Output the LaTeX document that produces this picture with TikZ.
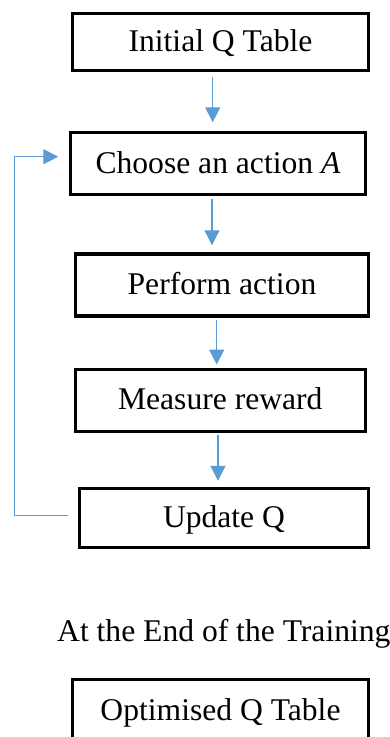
\documentclass[tikz,border=0pt]{standalone}
\usepackage{fontspec}
\setmainfont{Liberation Serif}
\usetikzlibrary{arrows.meta,calc}
\definecolor{flowblue}{HTML}{5B9BD5}
\begin{document}
\begin{tikzpicture}[x=1pt,y=-1pt,
  box/.style={draw=black,line width=3.5pt,fill=white,inner sep=0pt,
    text height=19pt,text depth=0pt,
    font=\fontsize{31.6}{36}\selectfont},
  flow/.style={draw=flowblue,line width=1.3pt,
    -{Triangle[length=15pt,width=15pt]}}]
\useasboundingbox (0,0) rectangle (390,737);
\clip (0,0) rectangle (390,737);
\node[box,minimum width=296pt,minimum height=57pt] (b1) at (220.5,42) {Initial Q Table};
\node[box,minimum width=295pt,minimum height=62pt] (b2) at (218,163.5) {Choose an action \textit{A}};
\node[box,minimum width=293pt,minimum height=62pt] (b3) at (222,285) {Perform action};
\node[box,minimum width=290pt,minimum height=62pt] (b4) at (220.3,400.3) {Measure reward};
\node[box,minimum width=289pt,minimum height=59pt] (b5) at (224,518) {Update Q};
\node[anchor=base west,inner sep=0pt,font=\fontsize{31.6}{36}\selectfont] (t) at (57,641) {At the End of the Training};
\node[box,minimum width=296pt,minimum height=63pt] (b6) at (220.5,711) {Optimised Q Table};
\draw[flow,shorten <=4.5pt,shorten >=8.5pt] ([xshift=-7.8pt]b1.south) -- ([xshift=-7.8pt]b1.south |- b2.north);
\draw[flow,shorten <=2.5pt,shorten >=7pt] ([xshift=-6pt]b2.south) -- ([xshift=-6pt]b2.south |- b3.north);
\draw[flow,shorten <=2pt,shorten >=3pt] ([xshift=-5.3pt]b3.south) -- ([xshift=-5.3pt]b3.south |- b4.north);
\draw[flow,shorten <=2pt,shorten >=6pt] ([xshift=-2.3pt]b4.south) -- ([xshift=-2.3pt]b4.south |- b5.north);
\coordinate (lb) at (14.7,515.7);
\coordinate (lt) at (14.7,156.7);
\draw[flow,shorten <=10pt,shorten >=10.5pt] (b5.west |- lb) -- (lb) -- (lt) -- (lt -| b2.west);
\end{tikzpicture}
\end{document}
